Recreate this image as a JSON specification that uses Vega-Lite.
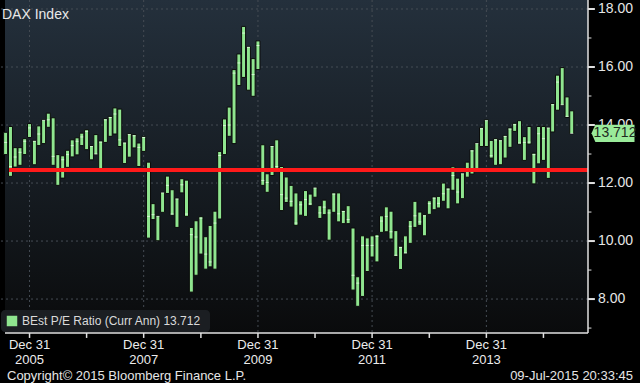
{
"$schema": "https://vega.github.io/schema/vega-lite/v6.json",
"width": 593,
"height": 333,
"autosize": {"type": "none"},
"padding": {"left": 0, "top": 0, "right": 47, "bottom": 50},
"background": "#000000",
"title": {"text": "DAX Index", "anchor": "start", "frame": "group", "offset": -19, "dy": 15, "baseline": "alphabetic", "dx": 2, "color": "#e8e8e8", "font": "Liberation Sans Narrow, Liberation Sans, Arial, sans-serif", "fontSize": 14, "fontWeight": "normal"},
"config": {
  "view": {"stroke": null},
  "font": "Liberation Sans Narrow, Liberation Sans, Arial, sans-serif"
},
"datasets": {
  "hgrid": [{"g": 8}, {"g": 10}, {"g": 12}, {"g": 14}, {"g": 16}, {"g": 18}],
  "vgrid": [{"t": "2005-12-31"}, {"t": "2007-12-31"}, {"t": "2009-12-31"}, {"t": "2011-12-31"}, {"t": "2013-12-31"}],
  "xticks": [{"t": "2005-12-31"}, {"t": "2006-12-31"}, {"t": "2007-12-31"}, {"t": "2008-12-31"}, {"t": "2009-12-31"}, {"t": "2010-12-31"}, {"t": "2011-12-31"}, {"t": "2012-12-31"}, {"t": "2013-12-31"}, {"t": "2014-12-31"}],
  "xlabels": [{"t": "2005-12-31", "lab": "Dec 31\n2005"}, {"t": "2007-12-31", "lab": "Dec 31\n2007"}, {"t": "2009-12-31", "lab": "Dec 31\n2009"}, {"t": "2011-12-31", "lab": "Dec 31\n2011"}, {"t": "2013-12-31", "lab": "Dec 31\n2013"}],
  "yeven": [{"v": 8}, {"v": 10}, {"v": 12}, {"v": 14}, {"v": 16}, {"v": 18}],
  "yodd": [{"v": 7}, {"v": 9}, {"v": 11}, {"v": 13}, {"v": 15}, {"v": 17}],
  "last": [{"v": 13.712}]
},
"data": {"values": [
{"d":"2005-07-31","hi":13.75,"lo":12.98,"close":13.40},
{"d":"2005-08-31","hi":13.95,"lo":12.23,"close":12.57},
{"d":"2005-09-30","hi":13.22,"lo":12.55,"close":12.90},
{"d":"2005-10-31","hi":13.22,"lo":12.61,"close":13.06},
{"d":"2005-11-30","hi":13.53,"lo":12.98,"close":13.44},
{"d":"2005-12-31","hi":14.05,"lo":13.57,"close":13.90},
{"d":"2006-01-31","hi":13.47,"lo":12.63,"close":13.44},
{"d":"2006-02-28","hi":13.97,"lo":13.29,"close":13.69},
{"d":"2006-03-31","hi":14.18,"lo":13.36,"close":14.16},
{"d":"2006-04-30","hi":14.41,"lo":13.92,"close":14.18},
{"d":"2006-05-31","hi":14.25,"lo":12.61,"close":12.92},
{"d":"2006-06-30","hi":12.98,"lo":11.92,"close":12.43},
{"d":"2006-07-31","hi":12.94,"lo":12.17,"close":12.80},
{"d":"2006-08-31","hi":13.13,"lo":12.54,"close":12.98},
{"d":"2006-09-30","hi":13.49,"lo":12.90,"close":13.29},
{"d":"2006-10-31","hi":13.56,"lo":12.97,"close":13.44},
{"d":"2006-11-30","hi":13.72,"lo":13.29,"close":13.59},
{"d":"2006-12-31","hi":13.84,"lo":13.15,"close":13.78},
{"d":"2007-01-31","hi":13.29,"lo":12.80,"close":13.26},
{"d":"2007-02-28","hi":13.67,"lo":12.98,"close":13.00},
{"d":"2007-03-31","hi":13.45,"lo":12.46,"close":13.41},
{"d":"2007-04-30","hi":14.22,"lo":13.40,"close":14.18},
{"d":"2007-05-31","hi":14.30,"lo":13.61,"close":14.26},
{"d":"2007-06-30","hi":14.59,"lo":13.69,"close":14.38},
{"d":"2007-07-31","hi":14.55,"lo":13.26,"close":13.49},
{"d":"2007-08-31","hi":13.41,"lo":12.67,"close":13.38},
{"d":"2007-09-30","hi":13.70,"lo":12.89,"close":13.67},
{"d":"2007-10-31","hi":13.67,"lo":13.21,"close":13.63},
{"d":"2007-11-30","hi":13.38,"lo":12.57,"close":13.23},
{"d":"2007-12-31","hi":13.61,"lo":13.09,"close":13.57},
{"d":"2008-01-31","hi":12.72,"lo":10.10,"close":10.85},
{"d":"2008-02-29","hi":11.29,"lo":10.74,"close":10.91},
{"d":"2008-03-31","hi":10.87,"lo":10.01,"close":10.85},
{"d":"2008-04-30","hi":11.68,"lo":10.99,"close":11.66},
{"d":"2008-05-31","hi":12.24,"lo":11.64,"close":11.92},
{"d":"2008-06-30","hi":11.77,"lo":10.89,"close":10.93},
{"d":"2008-07-31","hi":11.48,"lo":10.47,"close":11.45},
{"d":"2008-08-31","hi":12.15,"lo":11.66,"close":11.94},
{"d":"2008-09-30","hi":12.10,"lo":10.85,"close":10.93},
{"d":"2008-10-31","hi":10.47,"lo":8.24,"close":10.22},
{"d":"2008-11-30","hi":10.70,"lo":8.82,"close":10.14},
{"d":"2008-12-31","hi":10.84,"lo":9.55,"close":10.79},
{"d":"2009-01-31","hi":10.15,"lo":9.03,"close":9.55},
{"d":"2009-02-28","hi":10.54,"lo":9.11,"close":9.28},
{"d":"2009-03-31","hi":11.03,"lo":9.03,"close":10.62},
{"d":"2009-04-30","hi":13.09,"lo":10.76,"close":12.95},
{"d":"2009-05-31","hi":14.21,"lo":12.98,"close":13.98},
{"d":"2009-06-30","hi":14.62,"lo":13.61,"close":14.00},
{"d":"2009-07-31","hi":15.91,"lo":13.36,"close":15.79},
{"d":"2009-08-31","hi":16.45,"lo":15.36,"close":16.14},
{"d":"2009-09-30","hi":17.40,"lo":15.64,"close":17.17},
{"d":"2009-10-31","hi":16.71,"lo":15.20,"close":16.68},
{"d":"2009-11-30","hi":16.29,"lo":14.99,"close":15.74},
{"d":"2009-12-31","hi":16.90,"lo":15.91,"close":16.74},
{"d":"2010-01-31","hi":13.32,"lo":11.92,"close":12.09},
{"d":"2010-02-28","hi":12.32,"lo":11.68,"close":12.02},
{"d":"2010-03-31","hi":13.29,"lo":12.26,"close":13.26},
{"d":"2010-04-30","hi":13.49,"lo":12.46,"close":12.57},
{"d":"2010-05-31","hi":12.57,"lo":11.05,"close":11.60},
{"d":"2010-06-30","hi":12.21,"lo":11.33,"close":11.48},
{"d":"2010-07-31","hi":11.92,"lo":11.17,"close":11.37},
{"d":"2010-08-31","hi":11.66,"lo":10.54,"close":10.62},
{"d":"2010-09-30","hi":11.39,"lo":10.89,"close":11.25},
{"d":"2010-10-31","hi":11.74,"lo":10.85,"close":11.43},
{"d":"2010-11-30","hi":11.62,"lo":11.22,"close":11.28},
{"d":"2010-12-31","hi":11.85,"lo":11.51,"close":11.83},
{"d":"2011-01-31","hi":11.22,"lo":10.78,"close":10.97},
{"d":"2011-02-28","hi":11.41,"lo":10.91,"close":11.17},
{"d":"2011-03-31","hi":11.11,"lo":10.03,"close":10.97},
{"d":"2011-04-30","hi":11.66,"lo":10.99,"close":11.62},
{"d":"2011-05-31","hi":11.66,"lo":10.66,"close":10.94},
{"d":"2011-06-30","hi":11.06,"lo":10.60,"close":11.02},
{"d":"2011-07-31","hi":11.22,"lo":10.60,"close":10.74},
{"d":"2011-08-31","hi":10.45,"lo":8.31,"close":8.82},
{"d":"2011-09-30","hi":8.77,"lo":7.75,"close":8.55},
{"d":"2011-10-31","hi":10.18,"lo":8.09,"close":9.85},
{"d":"2011-11-30","hi":10.11,"lo":8.95,"close":9.85},
{"d":"2011-12-31","hi":10.18,"lo":9.45,"close":9.85},
{"d":"2012-01-31","hi":10.22,"lo":9.28,"close":10.16},
{"d":"2012-02-29","hi":10.87,"lo":10.30,"close":10.69},
{"d":"2012-03-31","hi":11.18,"lo":10.32,"close":10.85},
{"d":"2012-04-30","hi":11.03,"lo":10.07,"close":10.32},
{"d":"2012-05-31","hi":10.36,"lo":9.47,"close":9.51},
{"d":"2012-06-30","hi":9.82,"lo":9.02,"close":9.78},
{"d":"2012-07-31","hi":10.18,"lo":9.56,"close":9.59},
{"d":"2012-08-31","hi":10.71,"lo":9.92,"close":10.51},
{"d":"2012-09-30","hi":11.37,"lo":10.47,"close":10.87},
{"d":"2012-10-31","hi":11.00,"lo":10.54,"close":10.66},
{"d":"2012-11-30","hi":10.91,"lo":10.18,"close":10.87},
{"d":"2012-12-31","hi":11.39,"lo":10.92,"close":11.29},
{"d":"2013-01-31","hi":11.52,"lo":11.08,"close":11.48},
{"d":"2013-02-28","hi":11.54,"lo":11.14,"close":11.30},
{"d":"2013-03-31","hi":12.00,"lo":11.37,"close":11.63},
{"d":"2013-04-30","hi":11.83,"lo":11.11,"close":11.79},
{"d":"2013-05-31","hi":12.56,"lo":11.75,"close":12.26},
{"d":"2013-06-30","hi":12.17,"lo":11.28,"close":11.69},
{"d":"2013-07-31","hi":12.34,"lo":11.46,"close":12.32},
{"d":"2013-08-31","hi":12.72,"lo":12.20,"close":12.40},
{"d":"2013-09-30","hi":13.15,"lo":12.31,"close":13.11},
{"d":"2013-10-31","hi":13.38,"lo":12.46,"close":13.36},
{"d":"2013-11-30","hi":13.92,"lo":13.26,"close":13.87},
{"d":"2013-12-31","hi":14.18,"lo":13.26,"close":14.15},
{"d":"2014-01-31","hi":13.47,"lo":12.86,"close":12.94},
{"d":"2014-02-28","hi":13.53,"lo":12.61,"close":13.49},
{"d":"2014-03-31","hi":13.49,"lo":12.63,"close":13.46},
{"d":"2014-04-30","hi":13.64,"lo":12.86,"close":13.61},
{"d":"2014-05-31","hi":13.90,"lo":13.23,"close":13.86},
{"d":"2014-06-30","hi":14.06,"lo":13.78,"close":14.01},
{"d":"2014-07-31","hi":14.15,"lo":13.34,"close":13.38},
{"d":"2014-08-31","hi":13.60,"lo":12.78,"close":13.40},
{"d":"2014-09-30","hi":13.95,"lo":13.34,"close":13.41},
{"d":"2014-10-31","hi":13.03,"lo":11.97,"close":12.98},
{"d":"2014-11-30","hi":13.95,"lo":12.66,"close":13.70},
{"d":"2014-12-31","hi":13.95,"lo":12.78,"close":13.53},
{"d":"2015-01-31","hi":13.92,"lo":12.16,"close":13.90},
{"d":"2015-02-28","hi":14.74,"lo":13.76,"close":14.70},
{"d":"2015-03-31","hi":15.72,"lo":14.51,"close":15.48},
{"d":"2015-04-30","hi":15.98,"lo":14.68,"close":14.70},
{"d":"2015-05-31","hi":14.97,"lo":14.26,"close":14.30},
{"d":"2015-06-30","hi":14.49,"lo":13.70,"close":13.712}
]},
"layer": [
  {
    "data": {"name": "last"},
    "mark": {"type": "rect", "fill": {"gradient": "linear", "x1": 0, "y1": 0, "x2": 0, "y2": 1, "stops": [{"offset": 0, "color": "#24303c"}, {"offset": 1, "color": "#0a0b0c"}]}},
    "encoding": {
      "x": {"datum": {"year": 2005, "month": 7, "date": 27, "utc": true}, "type": "temporal", "axis": null},
      "x2": {"datum": {"year": 2015, "month": 10, "date": 12, "utc": true}},
      "y": {"datum": 18.31, "type": "quantitative", "axis": null},
      "y2": {"datum": 6.83}
    }
  },
  {
    "data": {"name": "hgrid"},
    "mark": {"type": "rule", "color": "#454c54", "strokeDash": [2, 3], "strokeWidth": 1},
    "encoding": {"y": {"field": "g", "type": "quantitative", "axis": null}}
  },
  {
    "data": {"name": "vgrid"},
    "mark": {"type": "rule", "color": "#454c54", "strokeDash": [2, 3], "strokeWidth": 1},
    "encoding": {"x": {"field": "t", "type": "temporal", "axis": null}}
  },
  {
    "mark": {"type": "bar", "size": 4, "stroke": "#0b0b0b", "strokeWidth": 1, "clip": true},
    "encoding": {
      "x": {"field": "d", "type": "temporal", "axis": null,
        "scale": {"type": "utc", "domain": [{"year": 2005, "month": 7, "date": 27, "utc": true}, {"year": 2015, "month": 10, "date": 12, "utc": true}]}},
      "y": {"field": "hi", "type": "quantitative", "axis": null,
        "scale": {"domain": [6.83, 18.31], "nice": false, "zero": false}},
      "y2": {"field": "lo"},
      "color": {"datum": "BEst P/E Ratio (Curr Ann)  13.712", "scale": {"range": ["#8fe58f"]},
        "legend": {"orient": "bottom-left", "offset": 1, "title": null, "fillColor": "#1b1e22", "cornerRadius": 4, "padding": 5,
          "symbolType": "square", "symbolSize": 110, "symbolStrokeWidth": 0, "labelColor": "#dadada", "labelFontSize": 12, "labelLimit": 400}}
    }
  },
  {
    "mark": {"type": "tick", "orient": "horizontal", "size": 3, "thickness": 1, "color": "#f2fff2", "clip": true},
    "encoding": {
      "x": {"field": "d", "type": "temporal"},
      "y": {"field": "close", "type": "quantitative"}
    }
  },
  {
    "mark": {"type": "rule", "color": "#ff1a1a", "strokeWidth": 3},
    "encoding": {
      "x": {"datum": {"year": 2005, "month": 8, "date": 27, "utc": true}},
      "x2": {"datum": {"year": 2015, "month": 10, "date": 12, "utc": true}},
      "y": {"datum": 12.45}
    }
  },
  {
    "data": {"name": "last"},
    "mark": {"type": "rule", "color": "#e0e0e0", "strokeWidth": 1.5},
    "encoding": {
      "x": {"datum": {"year": 2005, "month": 7, "date": 27, "utc": true}},
      "x2": {"datum": {"year": 2015, "month": 10, "date": 12, "utc": true}},
      "y": {"datum": 6.83}
    }
  },
  {
    "data": {"name": "last"},
    "mark": {"type": "rule", "color": "#e0e0e0", "strokeWidth": 1.5},
    "encoding": {
      "x": {"datum": {"year": 2015, "month": 10, "date": 12, "utc": true}},
      "y": {"datum": 6.83},
      "y2": {"datum": 18.31}
    }
  },
  {
    "data": {"name": "xticks"},
    "mark": {"type": "rule", "color": "#e0e0e0", "strokeWidth": 1.5},
    "encoding": {
      "x": {"field": "t", "type": "temporal"},
      "y": {"datum": 6.83},
      "y2": {"datum": 6.66}
    }
  },
  {
    "data": {"name": "xlabels"},
    "mark": {"type": "text", "color": "#ececec", "fontSize": 13, "align": "center", "baseline": "top", "dy": 6, "lineBreak": "\n", "lineHeight": 15},
    "encoding": {
      "x": {"field": "t", "type": "temporal"},
      "y": {"datum": 6.83},
      "text": {"field": "lab", "type": "nominal"}
    }
  },
  {
    "data": {"name": "yeven"},
    "mark": {"type": "rule", "color": "#e0e0e0", "strokeWidth": 2},
    "encoding": {
      "x": {"datum": {"year": 2015, "month": 10, "date": 12, "utc": true}},
      "x2": {"datum": {"year": 2015, "month": 11, "date": 25, "utc": true}},
      "y": {"field": "v", "type": "quantitative"}
    }
  },
  {
    "data": {"name": "yodd"},
    "mark": {"type": "rule", "color": "#e0e0e0", "strokeWidth": 1},
    "encoding": {
      "x": {"datum": {"year": 2015, "month": 10, "date": 12, "utc": true}},
      "x2": {"datum": {"year": 2015, "month": 11, "date": 3, "utc": true}},
      "y": {"field": "v", "type": "quantitative"}
    }
  },
  {
    "data": {"name": "yeven"},
    "mark": {"type": "text", "color": "#e6e6e6", "fontSize": 14, "align": "left", "baseline": "middle", "dx": 10},
    "encoding": {
      "x": {"datum": {"year": 2015, "month": 10, "date": 12, "utc": true}},
      "y": {"field": "v", "type": "quantitative"},
      "text": {"field": "v", "type": "quantitative", "format": ".2f"}
    }
  },
  {
    "data": {"name": "last"},
    "mark": {"type": "text", "text": "Copyright© 2015 Bloomberg Finance L.P.", "color": "#e6e6e6", "fontSize": 13, "align": "left", "baseline": "alphabetic", "dx": 2, "dy": 47},
    "encoding": {
      "x": {"datum": {"year": 2005, "month": 7, "date": 27, "utc": true}},
      "y": {"datum": 6.83}
    }
  },
  {
    "data": {"name": "last"},
    "mark": {"type": "text", "text": "09-Jul-2015 20:33:45", "color": "#e6e6e6", "fontSize": 13, "align": "right", "baseline": "alphabetic", "dx": 45, "dy": 47},
    "encoding": {
      "x": {"datum": {"year": 2015, "month": 10, "date": 12, "utc": true}},
      "y": {"datum": 6.83}
    }
  },
  {
    "data": {"name": "last"},
    "mark": {"type": "point", "shape": "M-1,0L-0.82,-0.4L1,-0.4L1,0.4L-0.82,0.4Z", "size": 1849, "filled": true, "color": "#9aeb9a", "opacity": 1},
    "encoding": {
      "x": {"datum": {"year": 2016, "month": 3, "date": 20, "utc": true}},
      "y": {"field": "v", "type": "quantitative"}
    }
  },
  {
    "data": {"name": "last"},
    "mark": {"type": "text", "color": "#1f2a1f", "fontSize": 14, "align": "center", "baseline": "middle", "dx": 2},
    "encoding": {
      "x": {"datum": {"year": 2016, "month": 3, "date": 20, "utc": true}},
      "y": {"field": "v", "type": "quantitative"},
      "text": {"field": "v", "type": "quantitative", "format": ".3f"}
    }
  }
]
}
